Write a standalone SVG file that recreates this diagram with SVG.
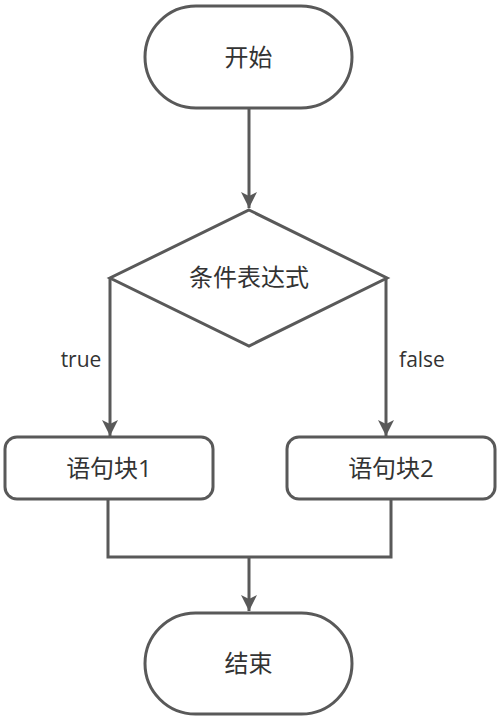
<svg xmlns="http://www.w3.org/2000/svg" width="500" height="722" viewBox="0 0 500 722">
<style>
.shape{fill:#ffffff;stroke:#595959;stroke-width:3}
.line{fill:none;stroke:#595959;stroke-width:3}
.lbl{font-family:"Open Sans","Noto Sans CJK SC",sans-serif;font-size:24px;fill:#333333;text-anchor:middle}
.edge{font-family:"Open Sans","Noto Sans CJK SC",sans-serif;font-size:21px;fill:#333333;text-anchor:middle}
</style>
<defs>
<marker id="arr" markerUnits="userSpaceOnUse" markerWidth="16" markerHeight="18" refX="8" refY="16" orient="0" viewBox="0 0 16 18">
<path d="M0,0 L8,4 L16,0 L8,16 Z" fill="#595959"/>
</marker>
</defs>
<rect width="500" height="722" fill="#ffffff"/>
<g id="connectors">
<line class="line" x1="249" y1="108" x2="249" y2="208" marker-end="url(#arr)"/>
<line class="line" x1="110" y1="278" x2="110" y2="436" marker-end="url(#arr)"/>
<line class="line" x1="386" y1="278" x2="386" y2="436" marker-end="url(#arr)"/>
<polyline class="line" points="108,499 108,557 391,557 391,499"/>
<line class="line" x1="249" y1="557" x2="249" y2="611" marker-end="url(#arr)"/>
<text class="edge" x="81" y="367">true</text>
<text class="edge" x="422" y="367">false</text>
</g>
<g id="start">
<rect class="shape" x="145" y="6" width="207" height="102" rx="51" ry="51"/>
<text class="lbl" x="248.5" y="66">开始</text>
</g>
<g id="condition">
<polygon class="shape" points="249,210 387,278 249,346 110,278"/>
<text class="lbl" x="249" y="286">条件表达式</text>
</g>
<g id="block1">
<rect class="shape" x="5" y="437" width="208" height="62" rx="12" ry="12"/>
<text class="lbl" x="109" y="477">语句块1</text>
</g>
<g id="block2">
<rect class="shape" x="287" y="437" width="208" height="62" rx="12" ry="12"/>
<text class="lbl" x="391" y="477">语句块2</text>
</g>
<g id="end">
<rect class="shape" x="145" y="613" width="207" height="101" rx="50.5" ry="50.5"/>
<text class="lbl" x="248.5" y="672">结束</text>
</g>
</svg>
